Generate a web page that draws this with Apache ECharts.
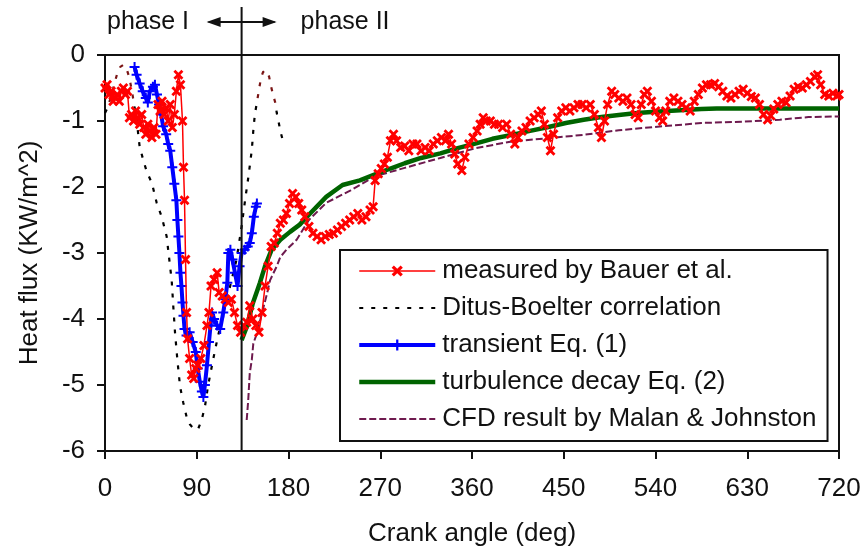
<!DOCTYPE html>
<html>
<head>
<meta charset="utf-8">
<script src="https://cdn.jsdelivr.net/npm/echarts@6/dist/echarts.min.js"></script>
<style>
html,body{margin:0;padding:0;background:#fff;}
#chart{width:864px;height:550px;}
</style>
</head>
<body>
<div id="chart"></div>
<script>
// ---- data (crank angle in deg, heat flux in kW/m^2) ----
const xTicks = [0, 90, 180, 270, 360, 450, 540, 630, 720];
const yTicks = [0, -1, -2, -3, -4, -5, -6];
const phaseBoundary = 134;

const measured = [
  [0,-0.5],[2,-0.45],[4,-0.6],[6,-0.55],[8,-0.7],[10,-0.65],[12,-0.6],[14,-0.7],[16,-0.55],[18,-0.5],
  [20,-0.6],[22,-0.55],[24,-0.95],[26,-0.9],[28,-1.0],[30,-0.85],[32,-0.95],[34,-1.05],[36,-0.9],[38,-1.1],
  [40,-1.2],[42,-1.05],[44,-1.15],[46,-1.25],[48,-1.1],[50,-1.2],[52,-0.75],[54,-0.85],[56,-0.7],[58,-0.9],
  [60,-0.8],[62,-1.0],[64,-0.75],[66,-1.1],[68,-0.9],[70,-0.55],[72,-0.3],[74,-0.45],[76,-1.0],[77,-1.7],
  [78,-2.2],[79,-3.1],[80,-3.9],[81,-4.3],[83,-4.6],[85,-4.85],[87,-4.9],[89,-4.75],[91,-4.7],[94,-4.6],
  [97,-4.4],[100,-4.1],[102,-3.9],[104,-3.5],[107,-3.4],[110,-3.3],[112,-3.6],[115,-3.65],[118,-3.7],[121,-3.75],
  [124,-3.7],[127,-3.9],[130,-4.1],[133,-4.2],[136,-4.1],[139,-4.05],[142,-3.8],[145,-4.0],[148,-4.1],[151,-4.2],
  [154,-3.9],[157,-3.5],[160,-3.2],[163,-2.9],[166,-2.85],[169,-2.7],[172,-2.55],[175,-2.5],[178,-2.4],[181,-2.25],
  [184,-2.1],[187,-2.15],[190,-2.25],[193,-2.35],[196,-2.45],[200,-2.6],[204,-2.7],[208,-2.75],[212,-2.8],[216,-2.75],
  [220,-2.72],[224,-2.7],[228,-2.65],[232,-2.6],[236,-2.55],[240,-2.5],[244,-2.45],[248,-2.4],[252,-2.5],[256,-2.45],
  [260,-2.35],[263,-2.3],[265,-1.9],[268,-1.8],[271,-1.72],[274,-1.65],[277,-1.55],[280,-1.3],[283,-1.2],[286,-1.3],
  [290,-1.4],[294,-1.38],[298,-1.45],[302,-1.35],[306,-1.35],[310,-1.45],[314,-1.4],[318,-1.45],[322,-1.35],[326,-1.3],
  [330,-1.25],[334,-1.3],[337,-1.2],[340,-1.35],[343,-1.5],[346,-1.65],[350,-1.75],[353,-1.55],[357,-1.35],[361,-1.25],
  [365,-1.15],[368,-1.05],[371,-0.95],[374,-1.0],[378,-1.0],[382,-1.05],[386,-1.05],[390,-1.1],[394,-1.05],[398,-1.2],
  [402,-1.35],[405,-1.25],[409,-1.15],[413,-1.1],[417,-1.0],[421,-0.95],[425,-0.9],[428,-0.85],[431,-1.05],[434,-1.25],
  [437,-1.45],[440,-1.2],[444,-0.95],[448,-0.85],[452,-0.8],[456,-0.85],[460,-0.8],[464,-0.75],[468,-0.75],[472,-0.8],
  [476,-0.75],[480,-0.9],[484,-1.1],[487,-1.25],[490,-1.0],[493,-0.75],[497,-0.55],[500,-0.6],[504,-0.65],[508,-0.7],
  [512,-0.65],[516,-0.75],[520,-0.9],[523,-0.95],[526,-0.75],[529,-0.6],[532,-0.55],[536,-0.7],[540,-0.85],[544,-0.95],
  [547,-1.0],[550,-0.85],[554,-0.7],[558,-0.65],[562,-0.7],[566,-0.75],[570,-0.8],[574,-0.85],[578,-0.7],[582,-0.6],
  [586,-0.5],[590,-0.45],[594,-0.45],[598,-0.43],[602,-0.48],[606,-0.55],[610,-0.62],[614,-0.65],[618,-0.6],[622,-0.55],
  [626,-0.52],[630,-0.58],[634,-0.63],[638,-0.65],[642,-0.75],[646,-0.9],[650,-0.98],[653,-0.92],[656,-0.82],[660,-0.75],
  [664,-0.7],[668,-0.72],[672,-0.62],[676,-0.52],[680,-0.48],[684,-0.5],[688,-0.45],[692,-0.4],[696,-0.33],[699,-0.3],
  [702,-0.45],[706,-0.6],[710,-0.62],[714,-0.58],[718,-0.62],[720,-0.6]
];

const ditusBoelter = [
  [0,-0.88],[3,-0.78],[6,-0.62],[9,-0.45],[12,-0.28],[15,-0.18],[18,-0.15],[21,-0.2],[24,-0.35],[27,-0.6],
  [29,-0.8],[31,-0.98],[34,-1.39],[37.5,-1.59],[41,-1.77],[46,-1.94],[50.7,-2.24],[55.6,-2.45],[60.5,-2.75],[63.8,-3.2],
  [65.4,-3.41],[67,-3.81],[68.7,-4.21],[71,-4.62],[73.6,-5.02],[76.8,-5.27],[80,-5.48],[83.4,-5.6],[88,-5.68],[91.5,-5.66],
  [94.8,-5.53],[98,-5.33],[101,-5.02],[106,-4.62],[110,-4.32],[116,-3.91],[122.6,-3.51],[129,-3.1],[134,-2.6],[137.4,-2.2],
  [140.7,-1.84],[144,-1.44],[145.5,-1.14],[147,-0.9],[149,-0.72],[151,-0.53],[153,-0.35],[155,-0.26],[157,-0.23],[159,-0.26],
  [161,-0.33],[162.5,-0.45],[164.5,-0.58],[167,-0.72],[168.5,-0.88],[170.5,-1.03],[172,-1.15],[174,-1.27]
];

const transient = [
  [29,-0.18],[31,-0.3],[34,-0.43],[37,-0.55],[40,-0.65],[42,-0.72],[44,-0.55],[47,-0.48],[49,-0.45],[51,-0.6],
  [53,-0.75],[55,-0.9],[57,-1.08],[60,-1.2],[62,-1.35],[64,-1.45],[66,-1.7],[68,-1.95],[70,-2.2],[71,-2.5],
  [72,-2.75],[73,-3.0],[74,-3.3],[75,-3.5],[76,-3.75],[77,-3.95],[78,-4.15],[80,-4.25],[83,-4.2],[86,-4.35],
  [89,-4.5],[91,-4.75],[93,-4.95],[95,-5.1],[96.5,-5.18],[98,-5.0],[100,-4.7],[102,-4.35],[103.5,-4.1],[105,-3.9],
  [107,-4.0],[110,-4.1],[113,-4.15],[116,-3.9],[118,-3.7],[120,-3.45],[121,-3.0],[123,-2.95],[125,-3.1],[127.5,-3.3],
  [130,-3.5],[132,-3.2],[134,-3.0],[137,-2.95],[140,-2.9],[142,-2.85],[144,-2.7],[146,-2.45],[148,-2.3],[149,-2.25]
];

const turbulenceDecay = [
  [134,-4.32],[139,-4.12],[145,-3.76],[152,-3.45],[157,-3.2],[163.5,-2.95],[172,-2.8],[181.5,-2.68],[191,-2.57],[200,-2.42],
  [217,-2.15],[233,-1.97],[250,-1.9],[263,-1.82],[280,-1.72],[294,-1.64],[310,-1.56],[329,-1.49],[346,-1.41],[364,-1.34],
  [380,-1.27],[399,-1.21],[417,-1.15],[435,-1.09],[452,-1.03],[469.5,-0.98],[487,-0.94],[504,-0.91],[522,-0.88],[539.5,-0.86],
  [560,-0.84],[585,-0.82],[600,-0.81],[720,-0.81]
];

const cfd = [
  [139,-5.53],[140.5,-5.23],[142,-4.82],[144,-4.62],[145.5,-4.37],[149,-4.22],[154,-3.91],[159,-3.61],[162,-3.41],[168.5,-3.2],
  [172,-3.06],[178,-2.95],[188,-2.8],[200,-2.5],[217,-2.24],[241,-2.05],[264.5,-1.84],[294,-1.71],[329,-1.56],[364,-1.41],
  [399,-1.31],[435,-1.26],[469.5,-1.21],[504,-1.14],[539.5,-1.09],[585,-1.03],[627,-1.01],[662,-0.98],[690,-0.94],[720,-0.93]
];

const names = ['measured by Bauer et al.', 'Ditus-Boelter correlation', 'transient Eq. (1)', 'turbulence decay Eq. (2)', 'CFD result by Malan & Johnston'];
const ditusPeakThreshold = -0.75;

// ---- chart ----
const FONT = '"Liberation Sans", Arial, sans-serif';
const xSym = 'path://M0,2L2,0L5,3L8,0L10,2L7,5L10,8L8,10L5,7L2,10L0,8L3,5Z';
const plusSym = 'path://M4,0H6V4H10V6H6V10H4V6H0V4H4Z';
const C_RED = '#ff0000', C_BLUE = '#0000ff', C_GREEN = '#006400', C_CFD = '#6e1a4e', C_BLACK = '#000000', C_PEAK = '#7a1414';

const chart = echarts.init(document.getElementById('chart'), null, {renderer: 'canvas'});

const option = {
  animation: false,
  backgroundColor: '#fff',
  textStyle: {fontFamily: FONT, color: '#000'},
  grid: {left: 105, right: 25, top: 55, bottom: 99, outerBoundsMode: 'none', containLabel: false,
         show: true, borderColor: '#111', borderWidth: 2, backgroundColor: 'transparent'},
  xAxis: {
    type: 'value', min: xTicks[0], max: xTicks[xTicks.length - 1], interval: 90,
    name: 'Crank angle (deg)', nameLocation: 'middle', nameGap: 70,
    nameTextStyle: {fontSize: 26, color: '#111', fontFamily: FONT},
    axisLine: {show: true, onZero: false, lineStyle: {color: '#111', width: 2}},
    axisTick: {show: true, length: 8, lineStyle: {color: '#111', width: 2}},
    axisLabel: {fontSize: 26, color: '#111', margin: 25, fontFamily: FONT},
    splitLine: {show: false}
  },
  yAxis: {
    type: 'value', min: yTicks[yTicks.length - 1], max: yTicks[0], interval: 1,
    name: 'Heat flux (KW/m^2)', nameLocation: 'middle', nameGap: 62, nameRotate: 90,
    nameTextStyle: {fontSize: 26, color: '#111', fontFamily: FONT},
    axisLine: {show: true, onZero: false, lineStyle: {color: '#111', width: 2}},
    axisTick: {show: true, length: 8, lineStyle: {color: '#111', width: 2}},
    axisLabel: {fontSize: 26, color: '#111', margin: 20, fontFamily: FONT},
    splitLine: {show: false}
  },
  legend: {
    orient: 'vertical', left: 340, top: 250,
    data: [
      {name: names[0], lineStyle: {width: 1.5, color: C_RED}},
      {name: names[1], itemStyle: {opacity: 0}, lineStyle: {width: 2, color: C_BLACK, type: [4, 8]}},
      {name: names[2], lineStyle: {width: 4, color: C_BLUE}},
      {name: names[3], itemStyle: {opacity: 0}, lineStyle: {width: 4.5, color: C_GREEN}},
      {name: names[4], itemStyle: {opacity: 0}, lineStyle: {width: 2, color: C_CFD, type: [7, 3]}}
    ],
    itemWidth: 76, itemHeight: 14, itemGap: 11,
    padding: [8, 11, 9, 17],
    backgroundColor: '#fff', borderColor: '#111', borderWidth: 2,
    textStyle: {fontSize: 26, color: '#111', fontFamily: FONT, padding: [0, 0, 0, 2]},
    selectedMode: false
  },
  series: [
    {
      id: 'cfd', name: names[4], type: 'line', data: cfd, symbol: 'circle', showSymbol: false, z: 2,
      lineStyle: {color: C_CFD, width: 2, type: [7, 3]},
      itemStyle: {color: C_CFD}
    },
    {
      id: 'ditus', name: names[1], type: 'line', data: ditusBoelter, symbol: 'circle', showSymbol: false, z: 2,
      lineStyle: {color: C_BLACK, width: 2.2, type: [4, 8]},
      itemStyle: {color: C_BLACK}
    },
    {
      id: 'turb', name: names[3], type: 'line', data: turbulenceDecay, symbol: 'circle', showSymbol: false, z: 3,
      lineStyle: {color: C_GREEN, width: 4.5},
      itemStyle: {color: C_GREEN}
    },
    {
      id: 'trans', name: names[2], type: 'line', data: transient, symbol: plusSym, symbolSize: 10, z: 4,
      lineStyle: {color: C_BLUE, width: 4},
      itemStyle: {color: C_BLUE}
    },
    {
      id: 'meas', name: names[0], type: 'line', data: measured, symbol: xSym, symbolSize: 10, z: 5,
      lineStyle: {color: C_RED, width: 1.5},
      itemStyle: {color: C_RED}
    }
  ]
};
chart.setOption(option);

// Ditus-Boelter peaks drawn in dark red: global vertical gradient with a hard stop at the threshold value
const yTop = chart.convertToPixel({yAxisIndex: 0}, yTicks[0]);
const yBottom = chart.convertToPixel({yAxisIndex: 0}, yTicks[yTicks.length - 1]);
const yThr = chart.convertToPixel({yAxisIndex: 0}, ditusPeakThreshold);
const f = (yThr - yTop) / (yBottom - yTop);
const ditusColor = new echarts.graphic.LinearGradient(0, yTop, 0, yBottom, [
  {offset: 0, color: C_PEAK}, {offset: f, color: C_PEAK}, {offset: f, color: C_BLACK}, {offset: 1, color: C_BLACK}
], true);

// phase annotation tied to the boundary angle
const bx = chart.convertToPixel({xAxisIndex: 0}, phaseBoundary);
const ay = 22;
chart.setOption({
  series: [{id: 'ditus', lineStyle: {color: ditusColor}}],
  graphic: [
    {type: 'line', shape: {x1: bx, y1: 7, x2: bx, y2: yBottom}, style: {stroke: '#111', lineWidth: 2}, z: 10},
    {type: 'line', shape: {x1: bx - 33, y1: ay, x2: bx + 33, y2: ay}, style: {stroke: '#111', lineWidth: 2}, z: 10},
    {type: 'polygon', shape: {points: [[bx - 35, ay], [bx - 21, ay - 5], [bx - 21, ay + 5]]}, style: {fill: '#111'}, z: 10},
    {type: 'polygon', shape: {points: [[bx + 35, ay], [bx + 21, ay - 5], [bx + 21, ay + 5]]}, style: {fill: '#111'}, z: 10},
    {type: 'text', x: 107, y: ay, style: {text: 'phase I', fontSize: 25, fontFamily: FONT, fill: '#111', verticalAlign: 'middle', textAlign: 'left'}, z: 10},
    {type: 'text', x: bx + 59, y: ay, style: {text: 'phase II', fontSize: 25, fontFamily: FONT, fill: '#111', verticalAlign: 'middle', textAlign: 'left'}, z: 10}
  ]
});
</script>
</body>
</html>
